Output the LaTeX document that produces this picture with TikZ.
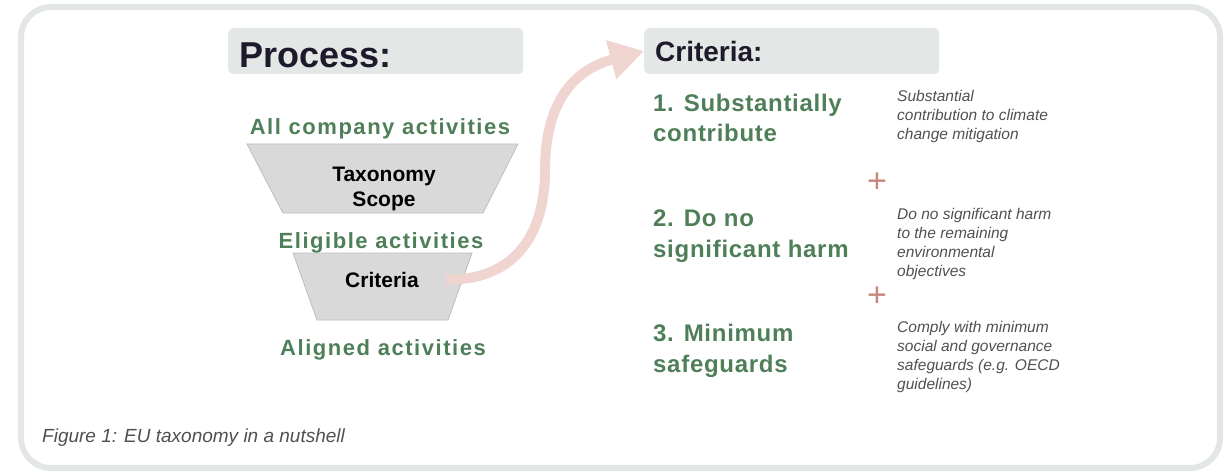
\documentclass[tikz,border=0pt]{standalone}
\usepackage{fontspec}
\setmainfont{Liberation Sans}
\newfontfamily\levelfont[LetterSpace=7]{Liberation Sans}
\newfontfamily\itemfont[LetterSpace=3]{Liberation Sans}
\usetikzlibrary{positioning, arrows.meta}

\definecolor{frameGrey}{HTML}{E2E6E5}
\definecolor{boxGrey}{HTML}{E3E7E6}
\definecolor{headText}{HTML}{1E1A2B}
\definecolor{levelGreen}{HTML}{4F7F59}
\definecolor{funnelFill}{HTML}{D9D9D9}
\definecolor{funnelEdge}{HTML}{BDBDBD}
\definecolor{noteGrey}{HTML}{505050}
\definecolor{plusRed}{HTML}{C7877F}
\definecolor{arrowPink}{HTML}{EFD4D0}

\begin{document}
\begin{tikzpicture}[
    x=1pt, y=-1pt,
    frame/.style={draw=frameGrey, line width=6pt, rounded corners=30pt},
    headbox/.style={fill=boxGrey, rounded corners=5pt, anchor=base west, inner xsep=11pt, inner ysep=0pt, text width=273pt, align=left, text=headText},
    funnel/.style={fill=funnelFill, draw=funnelEdge, line width=0.8pt},
    level/.style={anchor=base, inner sep=0pt, text=levelGreen, font=\levelfont\bfseries\fontsize{22}{26}\selectfont},
    inside/.style={anchor=base, inner sep=0pt, align=center, font=\bfseries\fontsize{21}{25}\selectfont},
    item/.style={anchor=base west, inner sep=0pt, align=left, text=levelGreen, font=\itemfont\bfseries\fontsize{24}{30.5}\selectfont},
    note/.style={anchor=base west, inner sep=0pt, align=left, text=noteGrey, font=\itshape\fontsize{15.5}{19}\selectfont},
    plus/.style={inner sep=0pt, text=plusRed, font=\fontsize{34}{34}\selectfont},
    flow/.style={draw=arrowPink, line width=10pt, -{Triangle[length=34pt, width=38pt]}}
]
   \useasboundingbox (0,0) rectangle (1228,473);

   % Outer frame
   \draw[frame] (21,7) rectangle (1220,468);

   % Headings
   \node[headbox, text height=40pt, text depth=6pt, font=\bfseries\fontsize{36}{40}\selectfont] (process) at (228,68) {Process:};
   \node[headbox, text height=34pt, text depth=12pt, font=\bfseries\fontsize{28}{32}\selectfont] (critHead) at (644,62) {Criteria:};

   % Funnel
   \filldraw[funnel] (247,144) -- (518,144) -- (483,213) -- (283,213) -- cycle;
   \filldraw[funnel] (293,253) -- (472,253) -- (448,320) -- (317,320) -- cycle;

   % (multi-line nodes sit on the baseline of their last line)
   \node[level] (all) at (380,135) {All company activities};
   \node[inside] (scope) at (384,207) {Taxonomy\\Scope};
   \node[level] (eligible) at (381,248) {Eligible activities};
   \node[inside] (crit) at (382,287) {Criteria};
   \node[level] (aligned) at (383,355) {Aligned activities};

   % Criteria list
   \node[item] (contribute) at (653,142) {1. Substantially\\contribute};
   \node[item] (harm) at (653,257) {2. Do no\\significant harm};
   \node[item] (safeguards) at (653,372) {3. Minimum\\safeguards};

   \node[note] (noteA) at (897,140) {Substantial\\contribution to climate\\change mitigation};
   \node[note] (noteB) at (897,276) {Do no significant harm\\to the remaining\\environmental\\objectives};
   \node[note] (noteC) at (897,389) {Comply with minimum\\social and governance\\safeguards (e.g. OECD\\guidelines)};

   \node[plus] (plusA) at (877,183) {+};
   \node[plus] (plusB) at (877,297) {+};

   % Arrow from the funnel to the criteria
   \draw[flow] ([xshift=27pt]crit.east) .. controls (510,281) and (545,240) .. (545,170)
      .. controls (545,95) and (580,68) .. (critHead.west);

   % Caption
   \node[note, font=\itshape\fontsize{19}{22}\selectfont] (caption) at (42,442) {Figure 1: EU taxonomy in a nutshell};
\end{tikzpicture}
\end{document}
